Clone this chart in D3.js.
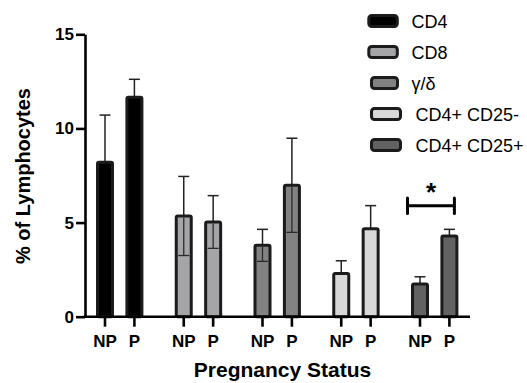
<!DOCTYPE html>
<html>
<head>
<meta charset="utf-8">
<script src="https://cdn.jsdelivr.net/npm/d3@7"></script>
<style>
  html, body { margin: 0; padding: 0; background: #fff; }
  svg { display: block; font-family: Arial, "Liberation Sans", Helvetica, sans-serif; }
</style>
</head>
<body>
<svg id="chart" width="527" height="383"></svg>
<script>
// ---- data ----
const groups = ["CD4", "CD8", "γ/δ", "CD4+ CD25-", "CD4+ CD25+"];
const statuses = ["NP", "P"];
const meanNP = [8.2, 5.35, 3.79, 2.3, 1.74];
const meanP  = [11.65, 5.03, 6.98, 4.67, 4.28];
const errNP  = [2.51, 2.1, 0.85, 0.67, 0.38];
const errP   = [0.96, 1.4, 2.5, 1.23, 0.36];
const showLower = [false, true, true, false, false];
const fills = ["#000000", "#a5a5a8", "#828282", "#d8d8d8", "#626262"];
const yTicks = [0, 5, 10, 15];
const yLabel = "% of Lymphocytes";
const xLabel = "Pregnancy Status";
const sigGroup = "CD4+ CD25+";
const sigLabel = "*";

// ---- layout ----
const svg = d3.select("#chart");
const axisLeftX = 85, axisRightX = 470;
const y = d3.scaleLinear().domain([0, 15]).range([316.7, 34.3]);
const xg = d3.scalePoint().domain(groups).range([119.7, 434.7]);
const xi = d3.scalePoint().domain(statuses).range([-14.7, 14.7]);
const barW = 15;
const stroke = "#1b1b1b";

const rows = [];
groups.forEach((g, gi) => {
  rows.push({g, gi, s: "NP", v: meanNP[gi], e: errNP[gi]});
  rows.push({g, gi, s: "P", v: meanP[gi], e: errP[gi]});
});
const cx = d => xg(d.g) + xi(d.s);

// error bars (drawn first, under bars for upper part; lower drawn on top where visible)
const eb = svg.append("g");
eb.selectAll("line.up").data(rows).join("line")
  .attr("x1", cx).attr("x2", cx)
  .attr("y1", d => y(d.v)).attr("y2", d => y(d.v + d.e))
  .attr("stroke", "#222").attr("stroke-width", 1.5);
eb.selectAll("line.upcap").data(rows).join("line")
  .attr("x1", d => cx(d) - 5.5).attr("x2", d => cx(d) + 5.5)
  .attr("y1", d => y(d.v + d.e)).attr("y2", d => y(d.v + d.e))
  .attr("stroke", "#222").attr("stroke-width", 1.5);

// bars
svg.append("g").selectAll("rect").data(rows).join("rect")
  .attr("x", d => cx(d) - barW / 2)
  .attr("width", barW)
  .attr("y", d => y(d.v))
  .attr("height", d => y(0) - y(d.v))
  .attr("rx", 1.5)
  .attr("fill", d => fills[d.gi])
  .attr("stroke", stroke)
  .attr("stroke-width", 3);

// lower whiskers visible inside some bars
const low = rows.filter(d => showLower[d.gi]);
const lb = svg.append("g");
lb.selectAll("line.lo").data(low).join("line")
  .attr("x1", cx).attr("x2", cx)
  .attr("y1", d => y(d.v) + 1.5).attr("y2", d => y(d.v - d.e))
  .attr("stroke", "#2a2a2a").attr("stroke-width", 1.3);
lb.selectAll("line.locap").data(low).join("line")
  .attr("x1", d => cx(d) - 5.5).attr("x2", d => cx(d) + 5.5)
  .attr("y1", d => y(d.v - d.e)).attr("y2", d => y(d.v - d.e))
  .attr("stroke", "#2a2a2a").attr("stroke-width", 1.3);

// y axis
const yAxis = svg.append("g").attr("transform", `translate(${axisLeftX},0)`)
  .call(d3.axisLeft(y).tickValues(yTicks).tickSize(9).tickSizeOuter(0).tickPadding(2));
yAxis.select(".domain").attr("stroke", "#000").attr("stroke-width", 2.6);
yAxis.selectAll(".tick line").attr("stroke", "#000").attr("stroke-width", 2.6);
yAxis.selectAll(".tick text").attr("font-size", 17).attr("font-weight", "bold")
  .attr("fill", "#000").attr("font-family", "Arial, 'Liberation Sans', sans-serif");

// x axis line
svg.append("line")
  .attr("x1", axisLeftX - 1.3).attr("x2", axisRightX)
  .attr("y1", y(0)).attr("y2", y(0))
  .attr("stroke", "#000").attr("stroke-width", 2.6);

// x ticks and labels
const xt = svg.append("g");
xt.selectAll("line").data(rows).join("line")
  .attr("x1", cx).attr("x2", cx)
  .attr("y1", y(0)).attr("y2", y(0) + 10)
  .attr("stroke", "#000").attr("stroke-width", 2.6);
xt.selectAll("text").data(rows).join("text")
  .attr("x", cx).attr("y", 347)
  .attr("text-anchor", "middle")
  .attr("font-size", 17).attr("font-weight", "bold")
  .text(d => d.s);

// axis titles
svg.append("text")
  .attr("transform", `translate(30,176) rotate(-90)`)
  .attr("text-anchor", "middle")
  .attr("font-size", 20).attr("font-weight", "bold")
  .text(yLabel);
svg.append("text")
  .attr("x", 282.5).attr("y", 376.5)
  .attr("text-anchor", "middle")
  .attr("font-size", 21).attr("font-weight", "bold")
  .text(xLabel);

// significance bracket
const sx1 = xg(sigGroup) + xi("NP") - 12.5, sx2 = xg(sigGroup) + xi("P") + 5;
const sg = svg.append("g");
sg.append("line").attr("x1", sx1).attr("x2", sx2).attr("y1", 205.7).attr("y2", 205.7)
  .attr("stroke", "#000").attr("stroke-width", 3);
[sx1, sx2].forEach(xx => sg.append("line").attr("x1", xx).attr("x2", xx)
  .attr("y1", 198).attr("y2", 213.5).attr("stroke", "#000").attr("stroke-width", 3)
  .attr("stroke-linecap", "round"));
sg.append("text").attr("x", (sx1 + sx2) / 2).attr("y", 201)
  .attr("text-anchor", "middle").attr("font-size", 26).attr("font-weight", "bold")
  .text(sigLabel);

// legend
const legY = i => 21 + i * 31;
const leg = svg.append("g");
groups.forEach((g, i) => {
  const sx = i < 2 ? 368.8 : 371.5;
  const sw = i < 2 ? 28.5 : (i === 2 ? 26 : 29);
  leg.append("rect")
    .attr("x", sx).attr("y", legY(i) - 5.5)
    .attr("width", sw).attr("height", 11)
    .attr("rx", 3)
    .attr("fill", fills[i]).attr("stroke", stroke).attr("stroke-width", 3);
  leg.append("text")
    .attr("x", i < 3 ? 411.5 : 415.5).attr("y", legY(i) + 6.5)
    .attr("font-size", 18)
    .text(g);
});
</script>
</body>
</html>
